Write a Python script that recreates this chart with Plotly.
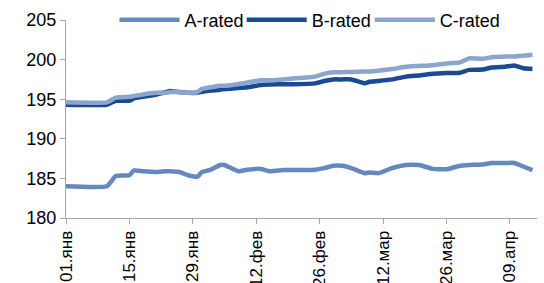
import plotly.graph_objects as go

dates = ["2011-01-01", "2011-01-10", "2011-01-12", "2011-01-15", "2011-01-16", "2011-01-18",
         "2011-01-21", "2011-01-23", "2011-01-24", "2011-01-26", "2011-01-28", "2011-01-30",
         "2011-01-31", "2011-02-02", "2011-02-04", "2011-02-05", "2011-02-08", "2011-02-10",
         "2011-02-13", "2011-02-15", "2011-02-18", "2011-02-20", "2011-02-25", "2011-02-27",
         "2011-03-01", "2011-03-03", "2011-03-05", "2011-03-08", "2011-03-09", "2011-03-11",
         "2011-03-14", "2011-03-17", "2011-03-20", "2011-03-23", "2011-03-26", "2011-03-29",
         "2011-03-31", "2011-04-03", "2011-04-05", "2011-04-08", "2011-04-10", "2011-04-12",
         "2011-04-14"]

a_rated = [184.0, 184.0, 185.3, 185.4, 186.0, 185.9, 185.8, 185.9, 185.9, 185.8, 185.4, 185.2,
           185.8, 186.1, 186.7, 186.7, 185.9, 186.1, 186.2, 185.9, 186.05, 186.05, 186.1, 186.3,
           186.6, 186.6, 186.3, 185.65, 185.75, 185.65, 186.3, 186.7, 186.7, 186.2, 186.15, 186.6,
           186.7, 186.75, 186.95, 186.95, 186.95, 186.5, 186.05]

b_rated = [194.3, 194.3, 194.8, 194.8, 195.1, 195.3, 195.6, 195.9, 196.05, 195.9, 195.8, 195.8,
           195.95, 196.1, 196.2, 196.3, 196.4, 196.5, 196.8, 196.85, 196.9, 196.9, 197.0, 197.3,
           197.5, 197.5, 197.5, 197.0, 197.2, 197.3, 197.5, 197.85, 198.0, 198.2, 198.3, 198.35,
           198.7, 198.75, 199.0, 199.1, 199.25, 198.9, 198.8]

c_rated = [194.6, 194.6, 195.2, 195.3, 195.4, 195.6, 195.8, 195.8, 195.9, 195.9, 195.8, 195.9,
           196.3, 196.5, 196.7, 196.7, 196.9, 197.1, 197.4, 197.4, 197.5, 197.6, 197.85, 198.2,
           198.4, 198.4, 198.45, 198.5, 198.5, 198.6, 198.8, 199.1, 199.2, 199.3, 199.5, 199.65,
           200.15, 200.1, 200.3, 200.4, 200.4, 200.5, 200.6]

tick_dates = ["2011-01-01", "2011-01-15", "2011-01-29", "2011-02-12", "2011-02-26",
              "2011-03-12", "2011-03-26", "2011-04-09"]
tick_labels = ["01.янв", "15.янв", "29.янв", "12.фев", "26.фев", "12.мар", "26.мар", "09.апр"]
y_ticks = [180, 185, 190, 195, 200, 205]

font = "Liberation Sans, Arial, sans-serif"

fig = go.Figure()
fig.add_trace(go.Scatter(x=dates, y=a_rated, name="A-rated", mode="lines", legend="legend",
                         line=dict(color="#6688BE", width=4.5, shape="spline", smoothing=0.4)))
fig.add_trace(go.Scatter(x=dates, y=b_rated, name="B-rated", mode="lines", legend="legend2",
                         line=dict(color="#1B4A94", width=4.5, shape="spline", smoothing=0.4)))
fig.add_trace(go.Scatter(x=dates, y=c_rated, name="C-rated", mode="lines", legend="legend3",
                         line=dict(color="#8AA5CE", width=4.5, shape="spline", smoothing=0.4)))

legend_style = dict(orientation="h", xanchor="left", y=1.0, yanchor="middle",
                    bgcolor="rgba(255,255,255,0)", font=dict(size=18), itemwidth=60)

fig.update_layout(
    width=544, height=283,
    margin=dict(l=66, r=7, t=20, b=65, autoexpand=False),
    paper_bgcolor="white", plot_bgcolor="white",
    font=dict(family=font, size=18, color="black"),
    showlegend=True,
    legend=dict(x=0.103, **legend_style),
    legend2=dict(x=0.373, **legend_style),
    legend3=dict(x=0.645, **legend_style),
    xaxis=dict(type="date", range=["2011-01-01", "2011-04-15"],
               tickvals=tick_dates, ticktext=tick_labels, tickangle=-90,
               showgrid=False, zeroline=False, showline=True, linecolor="#A6A6A6",
               linewidth=1, ticks="outside", ticklen=5, tickcolor="#A6A6A6",
               tickfont=dict(size=17)),
    yaxis=dict(range=[180, 205], tickvals=y_ticks, showgrid=False, zeroline=False,
               showline=True, linecolor="#A6A6A6", linewidth=1, ticks="outside",
               ticklen=5, tickcolor="#A6A6A6", tickfont=dict(size=18)),
)

fig.write_html("out.html", config={"displayModeBar": False, "staticPlot": True},
               post_script="document.body.style.margin='0';document.body.style.overflow='hidden';")
